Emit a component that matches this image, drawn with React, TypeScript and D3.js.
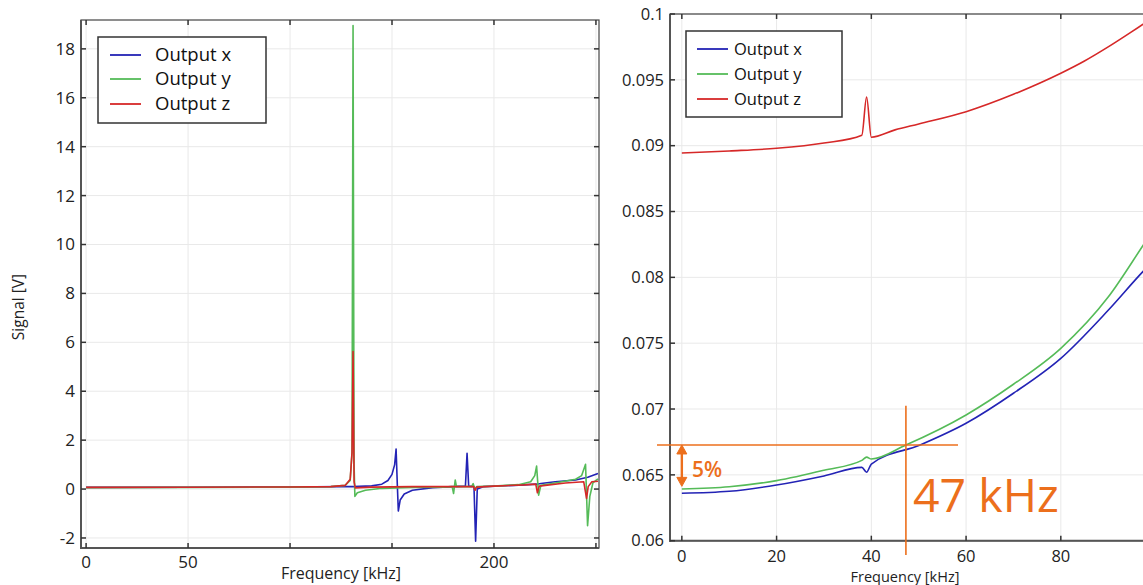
import { useEffect } from "react";
import * as d3 from "d3";

type Pt = [number, number];

const FONT = "'Open Sans', 'DejaVu Sans', sans-serif";
const ORANGE = "#ec6f1c";

const seriesNames = ["Output x", "Output y", "Output z"];
const seriesColors = ["#2323b5", "#55bb58", "#d62828"];

// left panel: full sweep, frequency [kHz] vs signal [V]
const sweepX: Pt[] = [
  [0, 0.07], [50, 0.075], [100, 0.085], [125, 0.1], [131, 0.1], [140, 0.13], [145, 0.2],
  [148, 0.35], [150, 0.6], [151.3, 1.0], [152, 1.64], [152.6, 0.2], [153.1, -0.9], [154, -0.45],
  [156, -0.2], [160, -0.05], [170, 0.06], [180, 0.1], [186, 0.12], [186.8, 1.46], [187.6, 0.12],
  [190.2, 0.1], [191, -2.13], [191.8, 0.0], [195, 0.1], [210, 0.15], [221, 0.2], [223, 0.23],
  [230, 0.3], [240, 0.37], [246, 0.48], [251, 0.64],
];
const sweepY: Pt[] = [
  [0, 0.06], [50, 0.07], [100, 0.08], [120, 0.1], [127, 0.15], [129.5, 0.35], [130.4, 1.5],
  [130.9, 18.95], [131.4, 1.0], [131.8, -0.3], [133, -0.15], [137, -0.05], [145, 0.03],
  [160, 0.07], [175, 0.08], [179.5, 0.1], [180.2, -0.18], [181, 0.37], [181.6, 0.1], [189, 0.1],
  [189.8, 0.22], [190.6, 0.0], [191.5, 0.1], [200, 0.12], [212, 0.18], [218, 0.3], [220, 0.55],
  [220.9, 0.94], [221.9, -0.25], [223, 0.15], [230, 0.25], [240, 0.4], [243, 0.55], [244.9, 1.01],
  [245.9, -1.5], [247, -0.3], [248.5, 0.25], [251, 0.42],
];
const sweepZ: Pt[] = [
  [0, 0.07], [50, 0.075], [100, 0.085], [120, 0.1], [127, 0.15], [129.5, 0.4], [130.4, 1.5],
  [130.9, 5.62], [131.4, 0.3], [132, 0.05], [140, 0.08], [160, 0.1], [180, 0.1], [190, 0.1],
  [190.7, -0.05], [191.5, 0.08], [200, 0.12], [215, 0.17], [220.5, 0.2], [221.3, -0.15],
  [222.2, 0.12], [235, 0.25], [244, 0.3], [245.4, -0.38], [246.2, 0.1], [248, 0.3], [251, 0.32],
];

// right panel: zoom on the low band
const zoomX: Pt[] = [
  [0, 0.0636], [10, 0.06375], [20, 0.06423], [30, 0.06492], [38, 0.06557], [39, 0.0652],
  [40, 0.06582], [50.3, 0.06727], [60, 0.06892], [70, 0.0712], [80, 0.07385],
  [90, 0.0775], [97.5, 0.0805], [102.5, 0.0823],
];
const zoomY: Pt[] = [
  [0, 0.06393], [10, 0.0641], [20, 0.06456], [30, 0.06535], [38, 0.0661], [39, 0.06635],
  [40, 0.0662], [47.3, 0.06727], [60, 0.06955], [70, 0.07188], [80, 0.07461],
  [90, 0.0785], [97.5, 0.0825], [102.5, 0.0852],
];
const zoomZ: Pt[] = [
  [0, 0.08944], [10, 0.0896], [20, 0.0898], [30, 0.0902], [38, 0.0908], [39, 0.0937],
  [40, 0.09064], [45, 0.0912], [50, 0.09165], [60, 0.09258], [70, 0.0939],
  [80, 0.0955], [85, 0.09643], [90, 0.0975], [95, 0.09866], [102.5, 0.1005],
];

const leftXTicks = [0, 50, 100, 150, 200, 250];
const leftXTickLabels = [0, 50, 200];
const leftYTicks = [-2, 0, 2, 4, 6, 8, 10, 12, 14, 16, 18];
const rightXTicks = [0, 20, 40, 60, 80, 100];
const rightXTickLabels = [0, 20, 40, 60, 80];
const rightYTicks = [0.06, 0.065, 0.07, 0.075, 0.08, 0.085, 0.09, 0.095, 0.1];

const baseLevel = 0.0639; // Output y at 0 kHz
const thresholdLevel = 0.06727; // +5 %
const cutoffFreq = 47.3;

interface LegendBox {
  x: number;
  y: number;
  w: number;
  h: number;
  rows: number[];
  lineX: [number, number];
  textX: number;
  fontSize: number;
}

interface PanelProps {
  id: string;
  x: d3.ScaleLinear<number, number>;
  y: d3.ScaleLinear<number, number>;
  xTicks: number[];
  xTickLabels: number[];
  yTicks: number[];
  data: Pt[][];
  curve: d3.CurveFactory;
  fontSize: number;
  xLabelY: number;
  legend: LegendBox;
}

function Panel({ id, x, y, xTicks, xTickLabels, yTicks, data, curve, fontSize, xLabelY, legend }: PanelProps) {
  const [left, right] = x.range();
  const [bottom, top] = y.range();
  const line = d3
    .line<Pt>()
    .x((d) => x(d[0]))
    .y((d) => y(d[1]))
    .curve(curve);
  const tk = 5;
  return (
    <g>
      <defs>
        <clipPath id={id}>
          <rect x={left} y={top} width={right - left} height={bottom - top} />
        </clipPath>
      </defs>
      {/* grid */}
      {xTicks.map((t) => (
        <line key={"gx" + t} x1={x(t)} x2={x(t)} y1={top} y2={bottom} stroke="#e9e9e9" />
      ))}
      {yTicks.map((t) => (
        <line key={"gy" + t} x1={left} x2={right} y1={y(t)} y2={y(t)} stroke="#e9e9e9" />
      ))}
      {/* series */}
      <g clipPath={`url(#${id})`}>
        {data.map((s, i) => (
          <path key={i} d={line(s) ?? ""} fill="none" stroke={seriesColors[i]} strokeWidth={1.6} strokeLinejoin="round" />
        ))}
      </g>
      {/* frame */}
      <rect x={left} y={top} width={right - left} height={bottom - top} fill="none" stroke="#444" strokeWidth={1.2} />
      <line x1={left} x2={left} y1={top} y2={bottom + 1} stroke="#555" strokeWidth={2} />
      <line x1={left - 1} x2={right} y1={bottom} y2={bottom} stroke="#555" strokeWidth={2} />
      {/* ticks, inward on every side */}
      {xTicks.map((t) => (
        <g key={"tx" + t} stroke="#333" strokeWidth={1.5}>
          <line x1={x(t)} x2={x(t)} y1={bottom} y2={bottom - tk} />
          <line x1={x(t)} x2={x(t)} y1={top} y2={top + tk} />
        </g>
      ))}
      {yTicks.map((t) => (
        <g key={"ty" + t} stroke="#333" strokeWidth={1.5}>
          <line x1={left} x2={left + tk} y1={y(t)} y2={y(t)} />
          <line x1={right} x2={right - tk} y1={y(t)} y2={y(t)} />
        </g>
      ))}
      {xTickLabels.map((t) => (
        <text key={"lx" + t} x={x(t)} y={xLabelY} textAnchor="middle" fontSize={fontSize} fill="#222" fontFamily={FONT}>
          {t}
        </text>
      ))}
      {yTicks.map((t) => (
        <text
          key={"ly" + t}
          x={left - 6}
          y={y(t)}
          dy="0.35em"
          textAnchor="end"
          fontSize={fontSize}
          fill="#222"
          fontFamily={FONT}
        >
          {String(t)}
        </text>
      ))}
      {/* legend */}
      <rect x={legend.x} y={legend.y} width={legend.w} height={legend.h} fill="#fff" stroke="#333" strokeWidth={1.5} />
      {seriesNames.map((n, i) => (
        <g key={n}>
          <line
            x1={legend.lineX[0]}
            x2={legend.lineX[1]}
            y1={legend.rows[i]}
            y2={legend.rows[i]}
            stroke={seriesColors[i]}
            strokeWidth={1.8}
          />
          <text x={legend.textX} y={legend.rows[i]} dy="0.35em" fontSize={legend.fontSize} fill="#111" fontFamily={FONT}>
            {n}
          </text>
        </g>
      ))}
    </g>
  );
}

export default function App() {
  useEffect(() => {
    document.body.style.margin = "0";
  }, []);

  const xL = d3.scaleLinear().domain([-2.5, 251.5]).range([81, 599]);
  const yL = d3.scaleLinear().domain([-2.41, 19.18]).range([548, 20]);
  const xR = d3.scaleLinear().domain([-2.5, 102.5]).range([670, 1167.4]);
  const yR = d3.scaleLinear().domain([0.06, 0.1]).range([540.7, 14]);

  const arrowX = xR(0);
  const aTop = yR(thresholdLevel);
  const aBot = yR(baseLevel) - 3;

  return (
    <svg width={1143} height={585} style={{ display: "block", background: "#fff" }}>
      <Panel
        id="clipL"
        x={xL}
        y={yL}
        xTicks={leftXTicks}
        xTickLabels={leftXTickLabels}
        yTicks={leftYTicks}
        data={[sweepX, sweepY, sweepZ]}
        curve={d3.curveLinear}
        fontSize={17}
        xLabelY={568}
        legend={{ x: 98, y: 37, w: 168, h: 86, rows: [55, 79, 104], lineX: [110, 141], textX: 155, fontSize: 18.5 }}
      />
      <text
        transform="translate(24,307) rotate(-90)"
        textAnchor="middle"
        fontSize={15.5}
        fill="#222"
        fontFamily={FONT}
      >
        Signal [V]
      </text>
      <text x={341} y={579} textAnchor="middle" fontSize={16} fill="#222" fontFamily={FONT}>
        Frequency [kHz]
      </text>

      <Panel
        id="clipR"
        x={xR}
        y={yR}
        xTicks={rightXTicks}
        xTickLabels={rightXTickLabels}
        yTicks={rightYTicks}
        data={[zoomX, zoomY, zoomZ]}
        curve={d3.curveMonotoneX}
        fontSize={16.5}
        xLabelY={562}
        legend={{ x: 686, y: 31, w: 156, h: 86, rows: [49, 74, 99], lineX: [697, 728], textX: 734, fontSize: 16.5 }}
      />
      <text x={905} y={582} textAnchor="middle" fontSize={14.5} fill="#222" fontFamily={FONT}>
        Frequency [kHz]
      </text>

      {/* 5 % threshold annotation */}
      <line x1={657} x2={xR(58.3)} y1={aTop} y2={aTop} stroke={ORANGE} strokeWidth={1.6} />
      <line x1={xR(cutoffFreq)} x2={xR(cutoffFreq)} y1={yR(0.07025)} y2={555} stroke={ORANGE} strokeWidth={1.6} />
      <line x1={arrowX} x2={arrowX} y1={aTop + 6} y2={aBot - 6} stroke={ORANGE} strokeWidth={2.4} />
      <path d={`M${arrowX - 5},${aTop + 9}L${arrowX},${aTop}L${arrowX + 5},${aTop + 9}Z`} fill={ORANGE} stroke={ORANGE} strokeWidth={1} />
      <path d={`M${arrowX - 5},${aBot - 9}L${arrowX},${aBot}L${arrowX + 5},${aBot - 9}Z`} fill={ORANGE} stroke={ORANGE} strokeWidth={1} />
      <text x={692} y={477} fontSize={21} fontWeight={600} fill={ORANGE} fontFamily={FONT}>
        5%
      </text>
      <text x={913} y={512} fontSize={46.5} fill={ORANGE} fontFamily={FONT}>
        47 kHz
      </text>
    </svg>
  );
}
